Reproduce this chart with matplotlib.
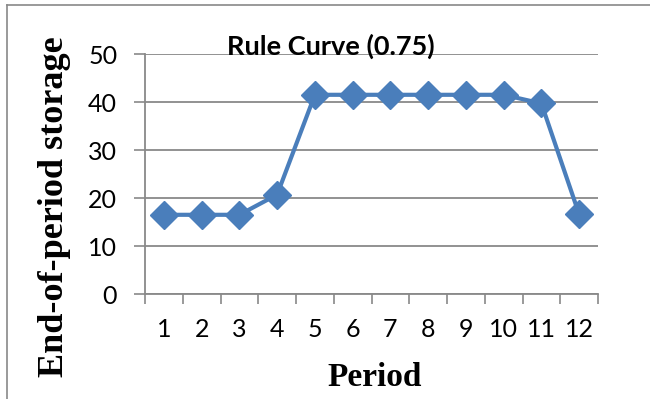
import matplotlib.pyplot as plt
from matplotlib.lines import Line2D
import numpy as np

periods = ['1', '2', '3', '4', '5', '6', '7', '8', '9', '10', '11', '12']
storage = [16.5, 16.5, 16.5, 20.7, 41.5, 41.5, 41.5, 41.5, 41.5, 41.5, 39.7, 16.6]
y_ticks = [0, 10, 20, 30, 40, 50]

sans = ['Lato', 'DejaVu Sans']
serif = ['Liberation Serif', 'DejaVu Serif']

fig = plt.figure(figsize=(6.5, 3.99), dpi=100)
ax = fig.add_axes([145 / 650, 1 - 294 / 399, 453 / 650, 240 / 399])

x = np.arange(len(periods))
ax.plot(x, storage, color='#4A7EBB', linewidth=3, marker='D', markersize=14,
        markeredgecolor='#4A7EBB', zorder=3, clip_on=False)

ax.set_xlim(-0.5, len(periods) - 0.5)
ax.set_ylim(0, 50)
ax.set_yticks(y_ticks)
ax.set_yticklabels([str(v) for v in y_ticks], fontfamily=sans, fontsize=18)

# category labels sit at the centres, ticks between categories
ax.set_xticks(x)
ax.set_xticklabels(periods, fontfamily=sans, fontsize=18)
ax.set_xticks(np.arange(len(periods) + 1) - 0.5, minor=True)
ax.tick_params(axis='x', which='major', length=0, pad=17)
ax.tick_params(axis='x', which='minor', length=7, width=1.2, color='#898989', direction='out')
ax.tick_params(axis='y', length=8, width=1.2, color='#898989', direction='out', pad=12)

ax.grid(axis='y', color='#898989', linewidth=1.3)
ax.set_axisbelow(True)
for side in ['top', 'right']:
    ax.spines[side].set_visible(False)
for side in ['left', 'bottom']:
    ax.spines[side].set_color('#898989')
    ax.spines[side].set_linewidth(1.3)

fig.text(331 / 650, 1 - 46 / 399, 'Rule Curve (0.75)', fontfamily=sans, fontweight='bold',
         fontsize=19.5, ha='center', va='center')
fig.text(55 / 650, 1 - 207 / 399, 'End-of-period storage', fontfamily=serif, fontweight='bold',
         fontsize=26, rotation=90, ha='center', va='center')
fig.text(375 / 650, 1 - 378 / 399, 'Period', fontfamily=serif, fontweight='bold',
         fontsize=24, ha='center', va='center')

# chart frame edges
fig.add_artist(Line2D([7 / 650, 7 / 650], [0, 1 - 5 / 399], color='#898989', linewidth=1.2))
fig.add_artist(Line2D([7 / 650, 1], [1 - 5 / 399, 1 - 5 / 399], color='#898989', linewidth=1.2))

fig.savefig('out.png', dpi=100)
